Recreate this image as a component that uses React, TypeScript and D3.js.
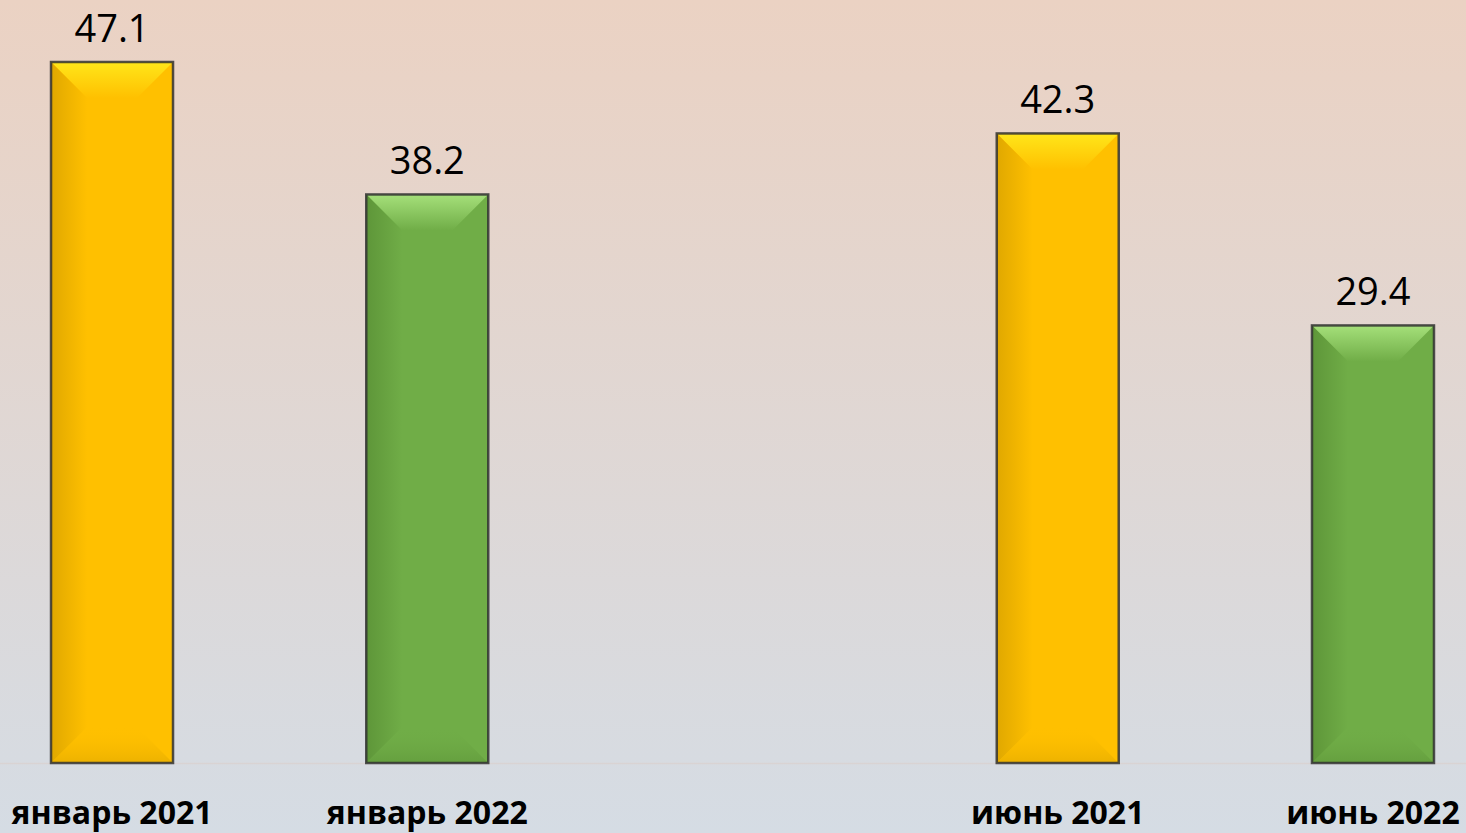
import React from "react";
import * as d3 from "d3";

const categories = ["январь 2021", "январь 2022", "", "июнь 2021", "июнь 2022"];
const values: (number | null)[] = [47.1, 38.2, null, 42.3, 29.4];
const seriesKind = ["a", "b", "", "a", "b"];

const W = 1466;
const H = 833;

const palette: Record<string, { base: string; light: string; dark: string }> = {
  a: { base: "#FFC000", light: "#FFE61A", dark: "#E0A800" },
  b: { base: "#70AD47", light: "#A5E07A", dark: "#5E9639" },
};

export default function App() {
  const x = d3.scaleBand<string>().domain(categories.map((c, i) => String(i))).range([-45.6, 1530.6]).paddingInner(0.613).paddingOuter(0.3065);
  const y = d3.scaleLinear().domain([0, 47.1]).range([763, 62]);
  const bw = 122;
  const bev = 36;

  return (
    <svg width={W} height={H} style={{ position: "absolute", left: 0, top: 0, display: "block" }}>
      <defs>
        <linearGradient id="bg" x1="0" y1="0" x2="0" y2="1">
          <stop offset="0" stopColor="#EBD2C3" />
          <stop offset="1" stopColor="#D5DCE4" />
        </linearGradient>
        {Object.entries(palette).map(([k, p]) => (
          <React.Fragment key={k}>
            <linearGradient id={`top-${k}`} x1="0" y1="0" x2="0" y2="1">
              <stop offset="0" stopColor={p.light} />
              <stop offset="1" stopColor={p.base} />
            </linearGradient>
            <linearGradient id={`left-${k}`} x1="0" y1="0" x2="1" y2="0">
              <stop offset="0" stopColor={p.dark} />
              <stop offset="1" stopColor={p.base} />
            </linearGradient>
            <linearGradient id={`bot-${k}`} x1="0" y1="1" x2="0" y2="0">
              <stop offset="0" stopColor={p.dark} stopOpacity="0.6" />
              <stop offset="1" stopColor={p.base} stopOpacity="0" />
            </linearGradient>
          </React.Fragment>
        ))}
      </defs>
      <rect x={0} y={0} width={W} height={H} fill="url(#bg)" />
      <line x1={0} x2={W} y1={763.5} y2={763.5} stroke="#D9D3D3" strokeWidth={1.5} />
      {categories.map((c, i) => {
        const v = values[i];
        if (v == null) return null;
        const k = seriesKind[i];
        const p = palette[k];
        const cx = (x(String(i)) as number) + x.bandwidth() / 2;
        const x0 = cx - bw / 2;
        const x1 = cx + bw / 2;
        const y0 = y(v);
        const y1 = y(0);
        const b = Math.min(bev, (x1 - x0) / 2);
        return (
          <g key={i}>
            <rect x={x0} y={y0} width={bw} height={y1 - y0} fill={p.base} />
            <polygon points={`${x0},${y0} ${x1},${y0} ${x1 - b},${y0 + b} ${x0 + b},${y0 + b}`} fill={`url(#top-${k})`} />
            <polygon points={`${x0},${y0} ${x0 + b},${y0 + b} ${x0 + b},${y1 - b} ${x0},${y1}`} fill={`url(#left-${k})`} />
            <polygon points={`${x0},${y1} ${x1},${y1} ${x1 - b},${y1 - b} ${x0 + b},${y1 - b}`} fill={`url(#bot-${k})`} />
            <rect x={x0} y={y0} width={bw} height={y1 - y0} fill="none" stroke="#333333" strokeWidth={2.5} strokeOpacity={0.85} />
            <text x={cx} y={y0 - 20} textAnchor="middle" fontFamily="'Open Sans', sans-serif" fontSize={38} fill="#000">
              {v.toFixed(1)}
            </text>
            <text x={cx} y={824} textAnchor="middle" fontFamily="'Open Sans', sans-serif" fontWeight={700} fontSize={32} fill="#000">
              {c}
            </text>
          </g>
        );
      })}
    </svg>
  );
}
